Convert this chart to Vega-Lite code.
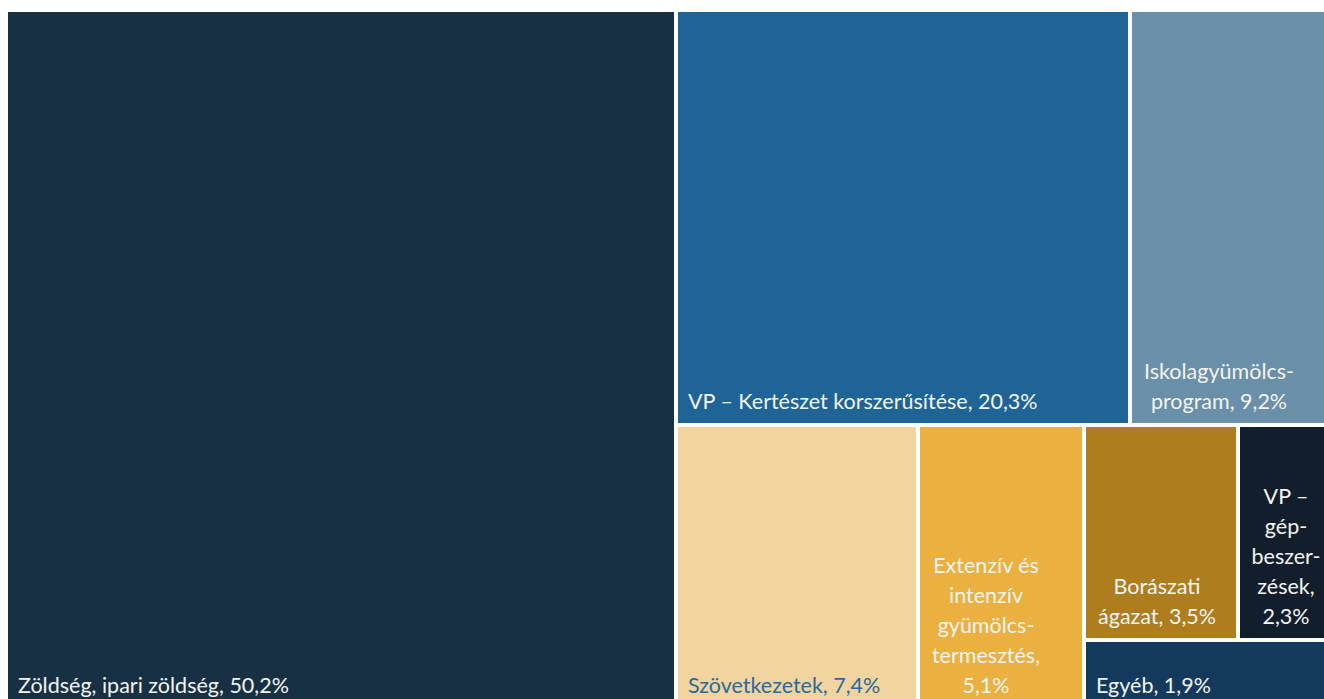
{
  "$schema": "https://vega.github.io/schema/vega-lite/v6.json",
  "padding": {"left": 8, "top": 12, "right": 0, "bottom": 0},
  "background": "white",
  "config": {"view": {"stroke": null}},
  "spacing": 4,
  "data": {"values": [
    {"name": "Zöldség", "label": "Zöldség, ipari zöldség, 50,2%", "value": 50.2},
    {"name": "VP Kertészet", "label": "VP – Kertészet korszerűsítése, 20,3%", "value": 20.3},
    {"name": "Iskolagyümölcs", "label": "Iskolagyümölcs-\nprogram, 9,2%", "value": 9.2},
    {"name": "Szövetkezetek", "label": "Szövetkezetek, 7,4%", "value": 7.4},
    {"name": "Extenzív", "label": "Extenzív és\nintenzív\ngyümölcs-\ntermesztés,\n5,1%", "value": 5.1},
    {"name": "Borászati", "label": "Borászati\nágazat, 3,5%", "value": 3.5},
    {"name": "VP gép", "label": "VP –\ngép-\nbeszer-\nzések,\n2,3%", "value": 2.3},
    {"name": "Egyéb", "label": "Egyéb, 1,9%", "value": 1.9}
  ]},
  "hconcat": [
    {
      "width": 666, "height": 687,
      "transform": [
        {"filter": "datum.name === 'Zöldség'"},
        {"stack": "value", "groupby": ["name"], "offset": "normalize", "as": ["x0", "x1"]},
        {"stack": "value", "groupby": ["name"], "offset": "normalize", "as": ["y0", "y1"]}
      ],
      "layer": [
        {"mark": {"type": "rect"},
         "encoding": {
           "x": {"field": "x0", "type": "quantitative", "scale": {"domain": [0, 1], "nice": false}, "axis": null},
           "x2": {"field": "x1"},
           "y": {"field": "y0", "type": "quantitative", "scale": {"domain": [0, 1], "nice": false}, "axis": null},
           "y2": {"field": "y1"},
           "color": {"field": "name", "type": "nominal", "legend": null,
             "scale": {"domain": ["Zöldség", "VP Kertészet", "Iskolagyümölcs", "Szövetkezetek", "Extenzív", "Borászati", "VP gép", "Egyéb"],
                       "range": ["#183044", "#1F6496", "#6A8FA8", "#F1D49F", "#EAB140", "#AE7E1E", "#121E2C", "#133A5C"]}}
         }},
        {"mark": {"type": "text", "align": "left", "baseline": "bottom", "dx": 10, "dy": -1, "font": "Lato", "fontSize": 21.5, "color": "#F4F4F4", "lineHeight": 30, "lineBreak": "\n"},
         "encoding": {
           "x": {"field": "x0", "type": "quantitative"},
           "y": {"field": "y0", "type": "quantitative"},
           "text": {"field": "label"}
         }}
      ]
    },
    {
      "spacing": 4,
      "vconcat": [
        {
          "spacing": 4,
          "hconcat": [
            {
              "width": 450, "height": 411,
              "transform": [
                {"filter": "datum.name === 'VP Kertészet'"},
                {"stack": "value", "groupby": ["name"], "offset": "normalize", "as": ["x0", "x1"]},
                {"stack": "value", "groupby": ["name"], "offset": "normalize", "as": ["y0", "y1"]}
              ],
              "layer": [
                {"mark": {"type": "rect"},
                 "encoding": {
                   "x": {"field": "x0", "type": "quantitative", "scale": {"domain": [0, 1], "nice": false}, "axis": null},
                   "x2": {"field": "x1"},
                   "y": {"field": "y0", "type": "quantitative", "scale": {"domain": [0, 1], "nice": false}, "axis": null},
                   "y2": {"field": "y1"},
                   "color": {"field": "name", "type": "nominal", "legend": null}
                 }},
                {"mark": {"type": "text", "align": "left", "baseline": "bottom", "dx": 10, "dy": -9, "font": "Lato", "fontSize": 21.5, "color": "#F4F4F4", "lineHeight": 30, "lineBreak": "\n"},
                 "encoding": {
                   "x": {"field": "x0", "type": "quantitative"},
                   "y": {"field": "y0", "type": "quantitative"},
                   "text": {"field": "label"}
                 }}
              ]
            },
            {
              "width": 192, "height": 411,
              "transform": [
                {"filter": "datum.name === 'Iskolagyümölcs'"},
                {"stack": "value", "groupby": ["name"], "offset": "normalize", "as": ["x0", "x1"]},
                {"stack": "value", "groupby": ["name"], "offset": "normalize", "as": ["y0", "y1"]}
              ],
              "layer": [
                {"mark": {"type": "rect"},
                 "encoding": {
                   "x": {"field": "x0", "type": "quantitative", "scale": {"domain": [0, 1], "nice": false}, "axis": null},
                   "x2": {"field": "x1"},
                   "y": {"field": "y0", "type": "quantitative", "scale": {"domain": [0, 1], "nice": false}, "axis": null},
                   "y2": {"field": "y1"},
                   "color": {"field": "name", "type": "nominal", "legend": null}
                 }},
                {"mark": {"type": "text", "align": "center", "baseline": "bottom", "dx": 87, "dy": -39, "font": "Lato", "fontSize": 21.5, "color": "#F4F4F4", "lineHeight": 30, "lineBreak": "\n"},
                 "encoding": {
                   "x": {"field": "x0", "type": "quantitative"},
                   "y": {"field": "y0", "type": "quantitative"},
                   "text": {"field": "label"}
                 }}
              ]
            }
          ]
        },
        {
          "spacing": 4,
          "hconcat": [
            {
              "width": 238, "height": 272,
              "transform": [
                {"filter": "datum.name === 'Szövetkezetek'"},
                {"stack": "value", "groupby": ["name"], "offset": "normalize", "as": ["x0", "x1"]},
                {"stack": "value", "groupby": ["name"], "offset": "normalize", "as": ["y0", "y1"]}
              ],
              "layer": [
                {"mark": {"type": "rect"},
                 "encoding": {
                   "x": {"field": "x0", "type": "quantitative", "scale": {"domain": [0, 1], "nice": false}, "axis": null},
                   "x2": {"field": "x1"},
                   "y": {"field": "y0", "type": "quantitative", "scale": {"domain": [0, 1], "nice": false}, "axis": null},
                   "y2": {"field": "y1"},
                   "color": {"field": "name", "type": "nominal", "legend": null}
                 }},
                {"mark": {"type": "text", "align": "left", "baseline": "bottom", "dx": 10, "dy": -1, "font": "Lato", "fontSize": 21.5, "color": "#2A6A9C", "lineHeight": 30, "lineBreak": "\n"},
                 "encoding": {
                   "x": {"field": "x0", "type": "quantitative"},
                   "y": {"field": "y0", "type": "quantitative"},
                   "text": {"field": "label"}
                 }}
              ]
            },
            {
              "width": 162, "height": 272,
              "transform": [
                {"filter": "datum.name === 'Extenzív'"},
                {"stack": "value", "groupby": ["name"], "offset": "normalize", "as": ["x0", "x1"]},
                {"stack": "value", "groupby": ["name"], "offset": "normalize", "as": ["y0", "y1"]}
              ],
              "layer": [
                {"mark": {"type": "rect"},
                 "encoding": {
                   "x": {"field": "x0", "type": "quantitative", "scale": {"domain": [0, 1], "nice": false}, "axis": null},
                   "x2": {"field": "x1"},
                   "y": {"field": "y0", "type": "quantitative", "scale": {"domain": [0, 1], "nice": false}, "axis": null},
                   "y2": {"field": "y1"},
                   "color": {"field": "name", "type": "nominal", "legend": null}
                 }},
                {"mark": {"type": "text", "align": "center", "baseline": "bottom", "dx": 66, "dy": -121, "font": "Lato", "fontSize": 21.5, "color": "#F4F4F4", "lineHeight": 30, "lineBreak": "\n"},
                 "encoding": {
                   "x": {"field": "x0", "type": "quantitative"},
                   "y": {"field": "y0", "type": "quantitative"},
                   "text": {"field": "label"}
                 }}
              ]
            },
            {
              "spacing": 4,
              "vconcat": [
                {
                  "spacing": 4,
                  "hconcat": [
                    {
                      "width": 150, "height": 211,
                      "transform": [
                        {"filter": "datum.name === 'Borászati'"},
                        {"stack": "value", "groupby": ["name"], "offset": "normalize", "as": ["x0", "x1"]},
                        {"stack": "value", "groupby": ["name"], "offset": "normalize", "as": ["y0", "y1"]}
                      ],
                      "layer": [
                        {"mark": {"type": "rect"},
                         "encoding": {
                           "x": {"field": "x0", "type": "quantitative", "scale": {"domain": [0, 1], "nice": false}, "axis": null},
                           "x2": {"field": "x1"},
                           "y": {"field": "y0", "type": "quantitative", "scale": {"domain": [0, 1], "nice": false}, "axis": null},
                           "y2": {"field": "y1"},
                           "color": {"field": "name", "type": "nominal", "legend": null}
                         }},
                        {"mark": {"type": "text", "align": "center", "baseline": "bottom", "dx": 71, "dy": -39, "font": "Lato", "fontSize": 21.5, "color": "#F4F4F4", "lineHeight": 30, "lineBreak": "\n"},
                         "encoding": {
                           "x": {"field": "x0", "type": "quantitative"},
                           "y": {"field": "y0", "type": "quantitative"},
                           "text": {"field": "label"}
                         }}
                      ]
                    },
                    {
                      "width": 84, "height": 211,
                      "transform": [
                        {"filter": "datum.name === 'VP gép'"},
                        {"stack": "value", "groupby": ["name"], "offset": "normalize", "as": ["x0", "x1"]},
                        {"stack": "value", "groupby": ["name"], "offset": "normalize", "as": ["y0", "y1"]}
                      ],
                      "layer": [
                        {"mark": {"type": "rect"},
                         "encoding": {
                           "x": {"field": "x0", "type": "quantitative", "scale": {"domain": [0, 1], "nice": false}, "axis": null},
                           "x2": {"field": "x1"},
                           "y": {"field": "y0", "type": "quantitative", "scale": {"domain": [0, 1], "nice": false}, "axis": null},
                           "y2": {"field": "y1"},
                           "color": {"field": "name", "type": "nominal", "legend": null}
                         }},
                        {"mark": {"type": "text", "align": "center", "baseline": "bottom", "dx": 46, "dy": -129, "font": "Lato", "fontSize": 21.5, "color": "#F4F4F4", "lineHeight": 30, "lineBreak": "\n"},
                         "encoding": {
                           "x": {"field": "x0", "type": "quantitative"},
                           "y": {"field": "y0", "type": "quantitative"},
                           "text": {"field": "label"}
                         }}
                      ]
                    }
                  ]
                },
                {
                  "width": 238, "height": 57,
                  "transform": [
                    {"filter": "datum.name === 'Egyéb'"},
                    {"stack": "value", "groupby": ["name"], "offset": "normalize", "as": ["x0", "x1"]},
                    {"stack": "value", "groupby": ["name"], "offset": "normalize", "as": ["y0", "y1"]}
                  ],
                  "layer": [
                    {"mark": {"type": "rect"},
                     "encoding": {
                       "x": {"field": "x0", "type": "quantitative", "scale": {"domain": [0, 1], "nice": false}, "axis": null},
                       "x2": {"field": "x1"},
                       "y": {"field": "y0", "type": "quantitative", "scale": {"domain": [0, 1], "nice": false}, "axis": null},
                       "y2": {"field": "y1"},
                       "color": {"field": "name", "type": "nominal", "legend": null}
                     }},
                    {"mark": {"type": "text", "align": "left", "baseline": "bottom", "dx": 10, "dy": -1, "font": "Lato", "fontSize": 21.5, "color": "#F4F4F4", "lineHeight": 30, "lineBreak": "\n"},
                     "encoding": {
                       "x": {"field": "x0", "type": "quantitative"},
                       "y": {"field": "y0", "type": "quantitative"},
                       "text": {"field": "label"}
                     }}
                  ]
                }
              ]
            }
          ]
        }
      ]
    }
  ]
}
